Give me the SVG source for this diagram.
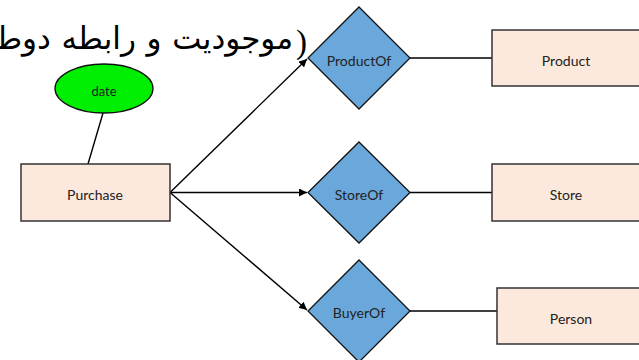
<svg xmlns="http://www.w3.org/2000/svg" width="639" height="360" viewBox="0 0 639 360">
  <style>
    .entity { fill: #fce8dc; stroke: #333333; stroke-width: 1.5; }
    .rel { fill: #6aa8db; stroke: #111111; stroke-width: 1.3; }
    .attr { fill: #00ee00; stroke: #111111; stroke-width: 1.3; }
    .label { font-family: Lato, "Open Sans", "Liberation Sans", sans-serif; font-size: 14px; fill: #222222; text-anchor: middle; dominant-baseline: central; }
    .small { font-size: 13px; }
    .edge { stroke: #000000; stroke-width: 1.4; fill: none; }
    .title { font-family: "Liberation Serif", "DejaVu Sans", serif; font-size: 31px; fill: #000000; }
    .paren { font-family: "Liberation Serif", serif; font-size: 33px; fill: #000000; text-anchor: end; }
  </style>
  <defs>
    <marker id="arrow" viewBox="0 0 10 10" refX="10" refY="5" markerWidth="8" markerHeight="8" markerUnits="userSpaceOnUse" orient="auto">
      <path d="M0,0 L10,5 L0,10 z" fill="#000000"/>
    </marker>
  </defs>

  <rect width="639" height="360" fill="#ffffff"/>

  <!-- heading line, running off the page on the left -->
  <g id="heading">
    <text class="paren" x="307" y="53">)</text>
    <text class="title" x="293" y="49" direction="rtl" unicode-bidi="embed" word-spacing="3">موجودیت و رابطه دوطرفه</text>
  </g>

  <g id="connectors">
    <line class="edge" x1="103" y1="113" x2="88" y2="164"/>
    <line class="edge" x1="170" y1="192.5" x2="307" y2="59" marker-end="url(#arrow)"/>
    <line class="edge" x1="170" y1="192.5" x2="307" y2="192.5" marker-end="url(#arrow)"/>
    <line class="edge" x1="170" y1="192.5" x2="307" y2="310" marker-end="url(#arrow)"/>
    <line class="edge" x1="410" y1="58" x2="492" y2="58"/>
    <line class="edge" x1="410" y1="192.5" x2="492" y2="192.5"/>
    <line class="edge" x1="410" y1="311" x2="497" y2="311"/>
  </g>

  <g id="date">
    <ellipse class="attr" cx="104" cy="88.5" rx="49" ry="24.5"/>
    <text class="label small" x="104" y="91">date</text>
  </g>

  <g id="purchase">
    <rect class="entity" x="21" y="164" width="149" height="57"/>
    <text class="label" x="95" y="194">Purchase</text>
  </g>

  <g id="productOf">
    <polygon class="rel" points="359,7 410,58 359,109 308,58"/>
    <text class="label" x="359" y="60">ProductOf</text>
  </g>

  <g id="storeOf">
    <polygon class="rel" points="359,142 410,192.5 359,243 308,192.5"/>
    <text class="label" x="359" y="194">StoreOf</text>
  </g>

  <g id="buyerOf">
    <polygon class="rel" points="359,260 410,311 359,362 308,311"/>
    <text class="label" x="359" y="312">BuyerOf</text>
  </g>

  <g id="product">
    <rect class="entity" x="492" y="30" width="150" height="56"/>
    <text class="label" x="566" y="60">Product</text>
  </g>

  <g id="store">
    <rect class="entity" x="492" y="164" width="150" height="57"/>
    <text class="label" x="566" y="194">Store</text>
  </g>

  <g id="person">
    <rect class="entity" x="497" y="288" width="145" height="56"/>
    <text class="label" x="571" y="318">Person</text>
  </g>
</svg>
